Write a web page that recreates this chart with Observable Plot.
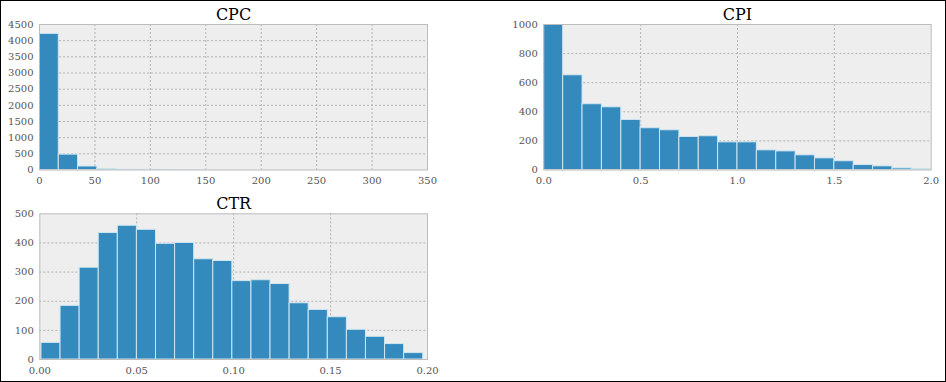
<!DOCTYPE html>
<html>
<head>
<meta charset="utf-8">
<script src="https://cdn.jsdelivr.net/npm/d3@7"></script>
<script src="https://cdn.jsdelivr.net/npm/@observablehq/plot@0.6"></script>
<style>
  html, body { margin: 0; padding: 0; background: #fff; }
  #page { position: relative; width: 946px; height: 382px; overflow: hidden; }
  #border { position: absolute; left: 0; top: 0; width: 946px; height: 382px; box-sizing: border-box; border: 1px solid #000; pointer-events: none; }
  .panel { position: absolute; }
</style>
</head>
<body>
<div id="page"><div id="border"></div></div>
<script>
// ---- data ----
const cpcTitle = "CPC";
const cpcBinStart = 0;
const cpcBinWidth = 17.4;
const cpcCounts = [4210, 475, 108, 33, 8, 5, 3, 2, 2];
const cpcXTicks = [0, 50, 100, 150, 200, 250, 300, 350];
const cpcYTicks = [0, 500, 1000, 1500, 2000, 2500, 3000, 3500, 4000, 4500];

const cpiTitle = "CPI";
const cpiBinStart = 0;
const cpiBinWidth = 0.1;
const cpiCounts = [998, 651, 452, 431, 344, 287, 273, 227, 232, 190, 190, 135, 128, 101, 80, 60, 34, 25, 11, 5];
const cpiXTicks = [0, 0.5, 1.0, 1.5, 2.0];
const cpiYTicks = [0, 200, 400, 600, 800, 1000];

const ctrTitle = "CTR";
const ctrBinStart = 0.00086;
const ctrBinWidth = 0.009847;
const ctrCounts = [57, 184, 315, 434, 459, 445, 397, 400, 344, 338, 269, 272, 259, 193, 170, 145, 102, 78, 53, 22];
const ctrXTicks = [0, 0.05, 0.10, 0.15, 0.20];
const ctrYTicks = [0, 100, 200, 300, 400, 500];

// ---- drawing ----
const barFill = "#348abd";
const barEdge = "#cfe6f2";
const gridColor = "#b2b2b2";

function bins(start, width, counts) {
  return counts.map((c, i) => ({x1: start + i * width, x2: start + (i + 1) * width, y: c}));
}

function panel({title, data, xDomain, yDomain, xTicks, yTicks, xFmt, left, top, width, height, mL, mR, mT, mB}) {
  const xGrid = xTicks.filter(t => t > xDomain[0] && t < xDomain[1]);
  const yGrid = yTicks.filter(t => t > yDomain[0] && t < yDomain[1]);
  const chart = Plot.plot({
    width, height,
    marginLeft: mL, marginRight: mR, marginTop: mT, marginBottom: mB,
    style: {fontFamily: "'DejaVu Serif', serif", fontSize: "10px", color: "#555555", background: "transparent", overflow: "visible"},
    x: {domain: xDomain, ticks: xTicks, tickFormat: xFmt, tickSize: 0, tickPadding: 7, label: null},
    y: {domain: yDomain, ticks: yTicks, tickFormat: d => String(d), tickSize: 0, tickPadding: 6, label: null},
    marks: [
      Plot.frame({fill: "#eeeeee", stroke: null}),
      Plot.ruleX(xGrid, {stroke: gridColor, strokeDasharray: "2,2", strokeWidth: 1}),
      Plot.ruleY(yGrid, {stroke: gridColor, strokeDasharray: "2,2", strokeWidth: 1}),
      Plot.rectY(data, {x1: "x1", x2: "x2", y: "y", fill: barFill, stroke: barEdge, strokeWidth: 1, clip: true}),
      Plot.frame({stroke: "#bcbcbc", strokeWidth: 1}),
      Plot.text([title], {frameAnchor: "top", text: d => d, dy: -5, lineAnchor: "bottom", fontSize: 16, fill: "#000", fontFamily: "'DejaVu Serif', serif"})
    ]
  });
  chart.classList.add("panel");
  chart.style.left = left + "px";
  chart.style.top = top + "px";
  document.getElementById("page").insertBefore(chart, document.getElementById("border"));
}

panel({
  title: cpcTitle, data: bins(cpcBinStart, cpcBinWidth, cpcCounts),
  xDomain: [0, 350], yDomain: [0, 4500], xTicks: cpcXTicks, yTicks: cpcYTicks, xFmt: d => String(d),
  left: 0, top: 0, width: 440, height: 190, mL: 39, mR: 13, mT: 24, mB: 20.5
});
panel({
  title: cpiTitle, data: bins(cpiBinStart, cpiBinWidth, cpiCounts),
  xDomain: [0, 2], yDomain: [0, 1000], xTicks: cpiXTicks, yTicks: cpiYTicks, xFmt: d => d.toFixed(1),
  left: 490, top: 0, width: 456, height: 190, mL: 53.3, mR: 15.3, mT: 24, mB: 20.5
});
panel({
  title: ctrTitle, data: bins(ctrBinStart, ctrBinWidth, ctrCounts),
  xDomain: [0, 0.2], yDomain: [0, 500], xTicks: ctrXTicks, yTicks: ctrYTicks, xFmt: d => d.toFixed(2),
  left: 0, top: 190, width: 440, height: 190, mL: 39.3, mR: 13, mT: 23.3, mB: 21
});
</script>
</body>
</html>
